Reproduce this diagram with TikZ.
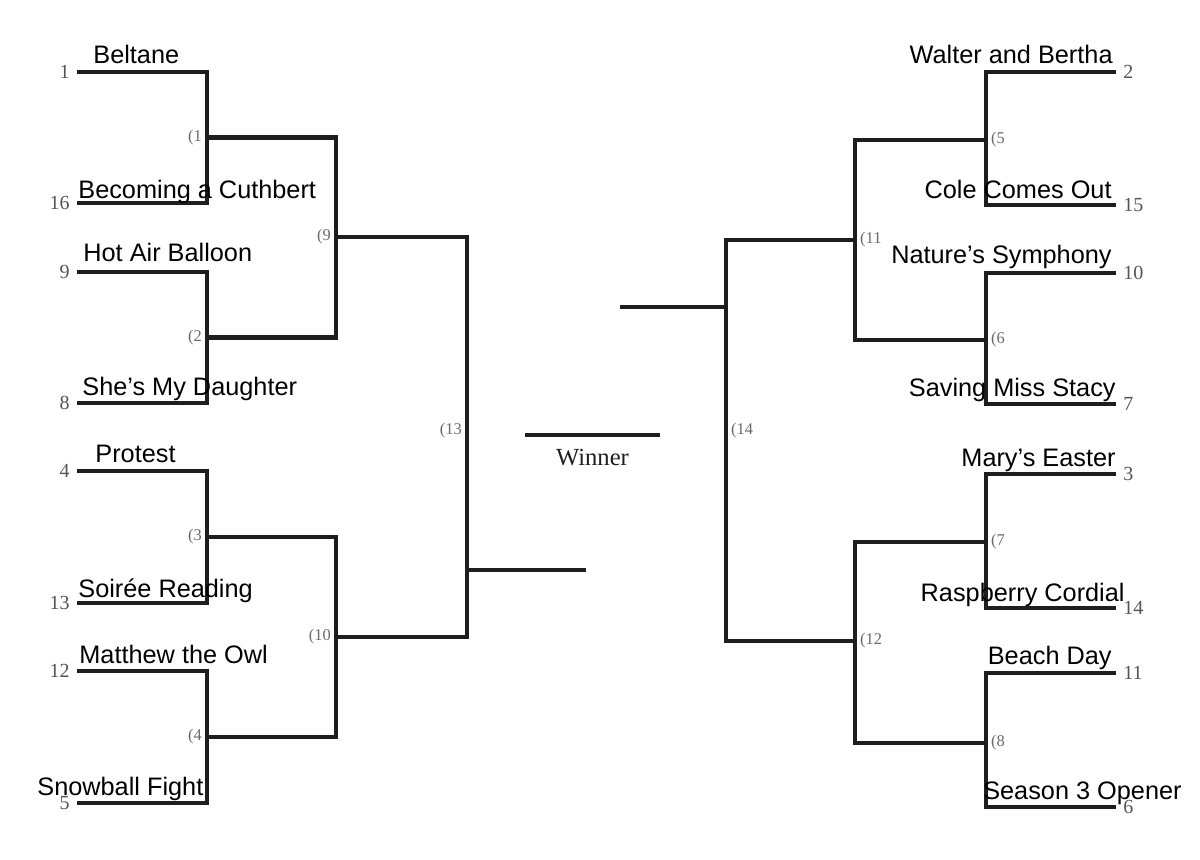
\documentclass[tikz,border=0pt]{standalone}
\usepackage{fontspec}
\setmainfont{Liberation Serif}
\newfontfamily\epsans{Liberation Sans}
\usetikzlibrary{positioning}
\definecolor{BrInk}{RGB}{30,30,30}
\definecolor{BrSeed}{RGB}{85,85,85}
\definecolor{BrGame}{RGB}{105,105,105}
\tikzset{
  br/line/.style={
    draw=BrInk,
    line width=2.2pt
  },
  br/seed/.style={
    font=\fontsize{10}{12}\selectfont,
    text=BrSeed,
    inner ysep=0pt,
    inner xsep=3.5pt
  },
  br/game/.style={
    font=\fontsize{8.2}{10}\selectfont,
    text=BrGame,
    inner ysep=0pt,
    inner xsep=2.4pt
  },
  br/title/.style={
    font=\epsans\fontsize{12.65}{15}\selectfont,
    text=black,
    inner sep=0pt
  },
  br/winner/.style={
    font=\fontsize{12.3}{15}\selectfont,
    text=BrInk,
    inner sep=0pt
  }
}

\begin{document}
\begin{tikzpicture}[x=0.5pt,y=-0.5pt]
  \useasboundingbox (0,0) rectangle (1200,859);
  % seeds
  \foreach \s/\y in {1/72,16/203,9/272,8/403,4/471,13/603,12/671,5/803}{
    \node[br/seed, anchor=east] (s\s) at (77,\y) {\s};
  }
  \foreach \s/\y in {2/72,15/205,10/273,7/404,3/474,14/608,11/673,6/807}{
    \node[br/seed, anchor=west] (s\s) at (1116,\y) {\s};
  }
  % games
  \coordinate (g1) at (207,137.5);
  \coordinate (g2) at (207,337.5);
  \coordinate (g3) at (207,537);
  \coordinate (g4) at (207,737);
  \coordinate (g9) at (336,237);
  \coordinate (g10) at (336,637);
  \coordinate (g13) at (467,570);
  \coordinate (out13) at (586,570);
  \coordinate (g5) at (986,140);
  \coordinate (g6) at (986,340);
  \coordinate (g7) at (986,542);
  \coordinate (g8) at (986,743);
  \coordinate (g11) at (855,240);
  \coordinate (g12) at (855,641);
  \coordinate (g14) at (726,307);
  \coordinate (out14) at (620,307);
  \coordinate (w1) at (525,435);
  \coordinate (w2) at (660,435);
  \foreach \a/\g/\b in {1/1/16,9/2/8,4/3/13,12/4/5}{\draw[br/line] (s\a.east) -| (g\g) |- (s\b.east);}
  \foreach \a/\g/\b in {2/5/15,10/6/7,3/7/14,11/8/6}{\draw[br/line] (s\a.west) -| (g\g) |- (s\b.west);}
  \foreach \a/\g/\b in {1/9/2,3/10/4,5/11/6,7/12/8}{\draw[br/line] (g\a) -| (g\g) |- (g\b);}
  \draw[br/line] (g9) -| (g13) |- (g10);
  \draw[br/line] (g11) -| (g14) |- (g12);
  \draw[br/line] (g13) -- (out13);
  \draw[br/line] (g14) -- (out14);
  \draw[br/line] (w1) -- (w2);
  \node[br/winner, anchor=base] (win) at (592.5,465) {Winner};
  % game labels
  \foreach \g in {1,2,3,4,9,10}{\node[br/game, anchor=east] (l\g) at (g\g) {(\g};}
  \foreach \g in {5,6,7,8,11,12}{\node[br/game, anchor=west] (l\g) at (g\g) {(\g};}
  \node[br/game, anchor=east] (l13) at (467,431) {(13};
  \node[br/game, anchor=west] (l14) at (726,431) {(14};
  % episode titles
  \foreach \s/\x/\y/\t in {1/93/63/Beltane, 16/78/198/Becoming a Cuthbert, 9/83/261/Hot Air Balloon,
    8/82/395/She’s My Daughter, 4/95/462/Protest, 13/78/597/Soirée Reading,
    12/79/663/Matthew the Owl, 5/37/795/Snowball Fight}{
    \node[br/title, anchor=base west] (t\s) at (\x,\y) {\t};
  }
  \foreach \s/\x/\y/\t in {2/1113/63/Walter and Bertha, 15/1112/198/Cole Comes Out, 10/1112/263/Nature’s Symphony,
    7/1116/396/Saving Miss Stacy, 3/1116/466/Mary’s Easter, 14/1125/601/Raspberry Cordial,
    11/1112/664/Beach Day, 6/1182/799/Season 3 Opener}{
    \node[br/title, anchor=base east] (t\s) at (\x,\y) {\t};
  }
\end{tikzpicture}
\end{document}
